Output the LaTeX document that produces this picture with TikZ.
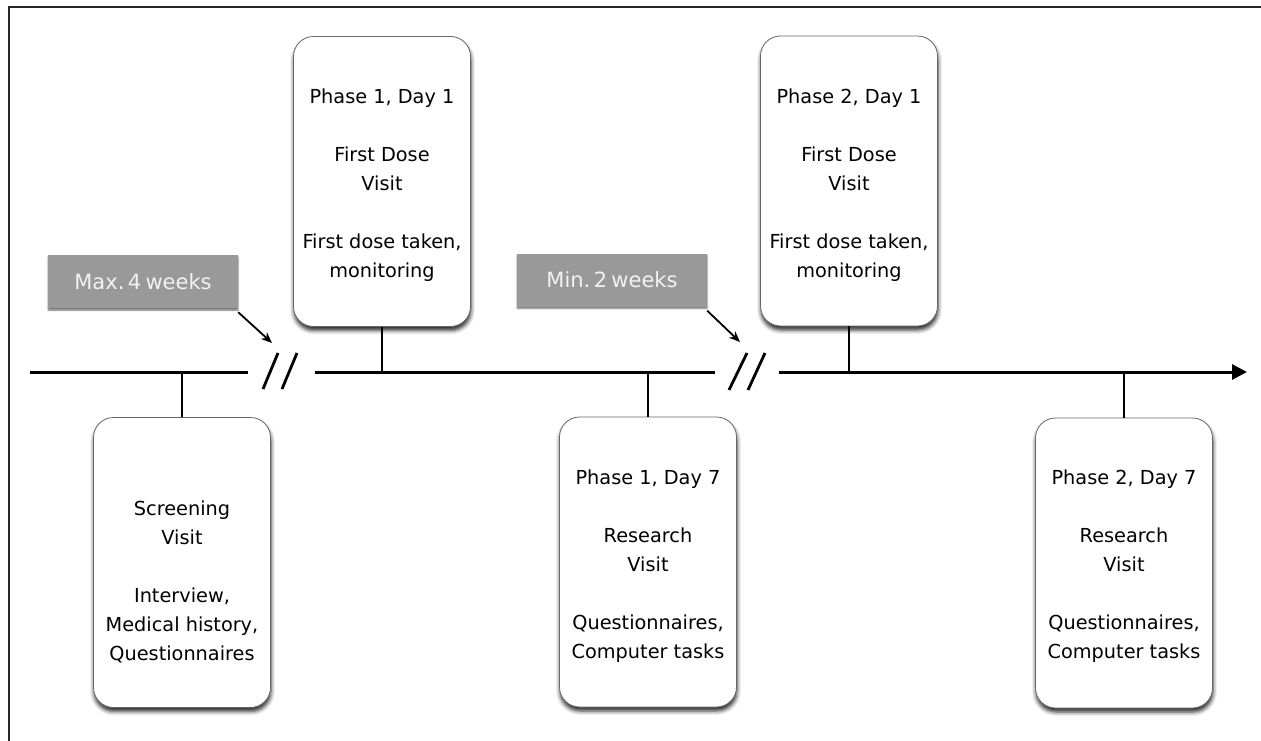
\documentclass[tikz,border=0pt]{standalone}
\usepackage{fontspec}
\setmainfont{DejaVu Sans}
\usetikzlibrary{shadows.blur,arrows.meta}

\newcommand{\cardfont}{\fontsize{19.3}{29}\selectfont}
\newcommand{\tagfont}{\fontsize{21}{24}\selectfont\spaceskip=0.2em\relax}

\tikzset{
  visit/.style={draw=black!60, line width=0.8pt, fill=white, rounded corners=20pt,
    minimum width=177pt, minimum height=290pt, inner sep=0pt,
    blur shadow={shadow xshift=0.5pt, shadow yshift=-4pt, shadow blur radius=4pt, shadow opacity=85}},
  vtext/.style={align=center, inner sep=0pt, font=\cardfont},
  gap/.style={fill=black!40, text=black!5, minimum width=190pt, minimum height=53pt,
    inner sep=0pt, font=\tagfont,
    blur shadow={shadow xshift=0pt, shadow yshift=-2pt, shadow blur radius=1.5pt, shadow opacity=55}},
  axis/.style={line width=3pt},
  stem/.style={line width=2.5pt},
  cut/.style={line width=2.8pt},
  pointer/.style={line width=1.8pt, -{Stealth[length=11pt,width=9pt]}},
  frame/.style={line width=1.6pt, black!85},
}

\begin{document}
\begin{tikzpicture}[x=1pt, y=-1pt]
\useasboundingbox (0,0) rectangle (1261,741);

% page frame (top and left edges)
\draw[frame] (9,741) -- (9,7) -- (1261,7);

% timeline anchor points
\coordinate (L0) at (30,372);
\coordinate (g1a) at (248,372);
\coordinate (g1b) at (315,372);
\coordinate (g2a) at (715,372);
\coordinate (g2b) at (779,372);
\coordinate (L1) at (1247,372);

% timeline with two breaks
\draw[axis] (L0) -- (g1a);
\draw[axis] (g1b) -- (g2a);
\draw[axis, -{Triangle[length=15pt,width=15pt]}] (g2b) -- (L1);

% break marks
\draw[cut] (263,389) -- (278,353);
\draw[cut] (282,389) -- (297,353);
\draw[cut] (729,390) -- (747,353);
\draw[cut] (748,390) -- (765,353);

% visit cards
\node[visit] (p1d1) at (382,181.5) {};
\node[visit] (p2d1) at (849,181) {};
\node[visit] (scr) at (182,562.5) {};
\node[visit] (p1d7) at (648,562) {};
\node[visit] (p2d7) at (1124,563) {};

% card texts
\node[vtext] (p1d1t) at ([yshift=-4pt]p1d1.center)
  {Phase 1, Day 1\\[29pt]First Dose\\Visit\\[29pt]First dose taken,\\monitoring};
\node[vtext] (p2d1t) at ([yshift=-4pt]p2d1.center)
  {Phase 2, Day 1\\[29pt]First Dose\\Visit\\[29pt]First dose taken,\\monitoring};
\node[vtext] (scrt) at ([yshift=-19pt]scr.center)
  {Screening\\Visit\\[29pt]Interview,\\Medical history,\\Questionnaires};
\node[vtext] (p1d7t) at ([yshift=-4pt]p1d7.center)
  {Phase 1, Day 7\\[29pt]Research\\Visit\\[29pt]Questionnaires,\\Computer tasks};
\node[vtext] (p2d7t) at ([yshift=-3pt]p2d7.center)
  {Phase 2, Day 7\\[29pt]Research\\Visit\\[29pt]Questionnaires,\\Computer tasks};

% stems joining visits to the timeline
\draw[stem] (p1d1.south) -- (p1d1.south |- L0);
\draw[stem] (p2d1.south) -- (p2d1.south |- L0);
\draw[stem] (scr.north) -- (scr.north |- L0);
\draw[stem] (p1d7.north) -- (p1d7.north |- L0);
\draw[stem] (p2d7.north) -- (p2d7.north |- L0);

% interval labels
\node[gap] (lab1) at (143,281.5) {Max.\,4 weeks};
\node[gap] (lab2) at (612,280) {Min.\,2 weeks};
\coordinate (a1) at (272,343);
\coordinate (a2) at (740,342);
\draw[pointer] ([yshift=-4pt]lab1.south east) -- (a1);
\draw[pointer] ([yshift=-4pt]lab2.south east) -- (a2);
\end{tikzpicture}
\end{document}
